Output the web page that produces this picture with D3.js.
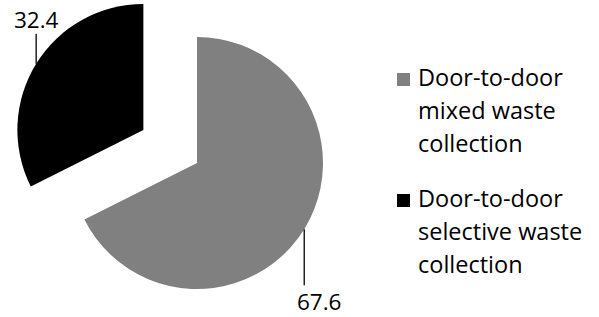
<!DOCTYPE html>
<html>
<head>
<meta charset="utf-8">
<script src="https://cdn.jsdelivr.net/npm/d3@7"></script>
<style>
  body { margin: 0; background: #fff; }
  svg { display: block; font-family: "Open Sans", sans-serif; }
</style>
</head>
<body>
<svg width="599" height="317"></svg>
<script>
// chart data
const categories = ['Door-to-door mixed waste collection', 'Door-to-door selective waste collection'];
const legendLines = [['Door-to-door', 'mixed waste', 'collection'], ['Door-to-door', 'selective waste', 'collection']];
const values = [67.6, 32.4];
const colors = ['#808080', '#000000'];

const svg = d3.select('svg');
const cx = 197, cy = 163;
const radius = 126;
const explode = [0, 63];

const pie = d3.pie().sort(null).value(d => d)(values);
const arc = d3.arc().innerRadius(0).outerRadius(radius);
const edge = d3.arc().innerRadius(radius).outerRadius(radius);

const graph = svg.append('g').attr('transform', `translate(${cx},${cy})`);

// slices, pulled out along their middle angle
const slices = graph.selectAll('g.slice')
    .data(pie)
    .enter()
    .append('g')
    .attr('class', 'slice')
    .attr('transform', (d, i) => {
        const mid = (d.startAngle + d.endAngle) / 2;
        return `translate(${Math.sin(mid) * explode[i]},${-Math.cos(mid) * explode[i]})`;
    });

slices.append('path')
    .attr('d', arc)
    .attr('fill', (d, i) => colors[i]);

// leader lines go straight up / down from the arc
const leader = [56, -30];
slices.append('line')
    .attr('x1', d => edge.centroid(d)[0])
    .attr('y1', d => edge.centroid(d)[1])
    .attr('x2', d => edge.centroid(d)[0])
    .attr('y2', (d, i) => edge.centroid(d)[1] + leader[i])
    .attr('stroke', '#000')
    .attr('stroke-width', 1.3);

slices.append('text')
    .attr('x', (d, i) => edge.centroid(d)[0] + (i === 0 ? 15 : 0))
    .attr('y', (d, i) => edge.centroid(d)[1] + leader[i] + (i === 0 ? 25 : -6))
    .attr('text-anchor', 'middle')
    .attr('font-size', 22.5)
    .attr('fill', '#000')
    .text(d => d.value.toFixed(1));

// legend
const legend = svg.append('g')
    .attr('transform', 'translate(397,86)');

const item = legend.selectAll('g')
    .data(categories)
    .enter()
    .append('g')
    .attr('transform', (d, i) => `translate(0,${i * 121})`);

item.append('rect')
    .attr('x', 0)
    .attr('y', -13)
    .attr('width', 13)
    .attr('height', 13)
    .attr('fill', (d, i) => colors[i]);

item.append('text')
    .attr('font-size', 23.5)
    .attr('fill', '#000')
    .selectAll('tspan')
    .data((d, i) => legendLines[i])
    .enter()
    .append('tspan')
    .attr('x', 21)
    .attr('y', (d, j) => j * 33)
    .text(d => d);
</script>
</body>
</html>
